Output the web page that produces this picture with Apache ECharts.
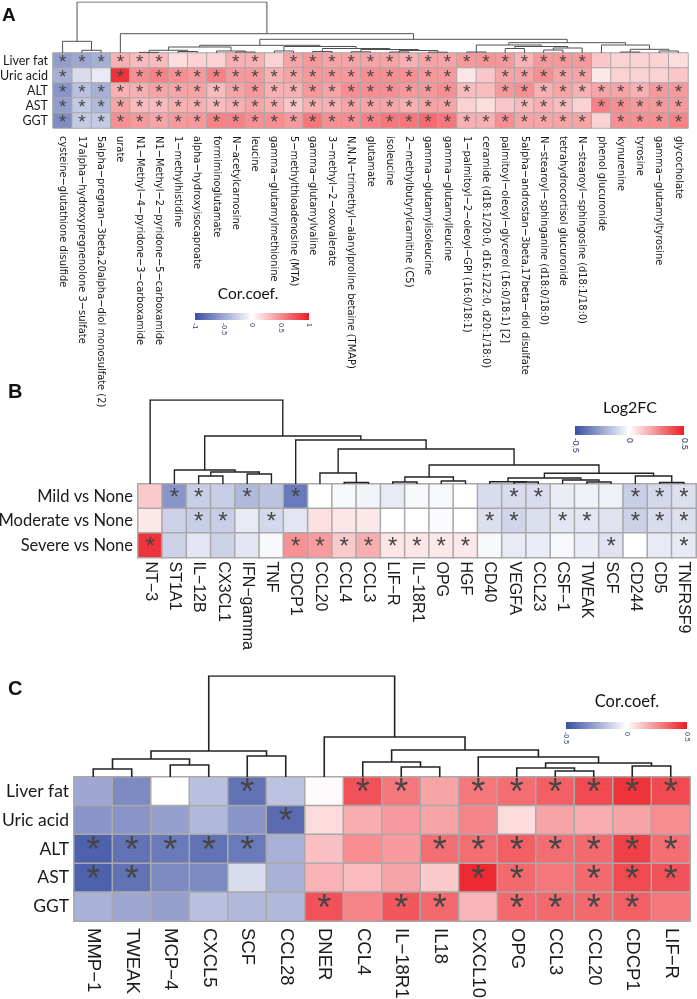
<!DOCTYPE html>
<html><head><meta charset="utf-8">
<script src="https://cdn.jsdelivr.net/npm/echarts@6/dist/echarts.min.js"></script>
<style>html,body{margin:0;padding:0;background:#fff}#c{width:697px;height:999px}</style>
</head><body><div id="c"></div>
<script>
// ---------- Panel A data ----------
const aRows = ['Liver fat','Uric acid','ALT','AST','GGT'];
const aCols = [
 'cysteine−glutathione disulfide','17alpha−hydroxypregnenolone 3−sulfate','5alpha−pregnan−3beta,20alpha−diol monosulfate (2)',
 'urate','N1−Methyl−4−pyridone−3−carboxamide','N1−Methyl−2−pyridone−5−carboxamide','1−methylhistidine',
 'alpha−hydroxyisocaproate','formiminoglutamate','N−acetylcarnosine','leucine','gamma−glutamylmethionine',
 '5−methylthioadenosine (MTA)','gamma−glutamylvaline','3−methyl−2−oxovalerate',
 'N,N,N−trimethyl−alanylproline betaine (TMAP)','glutamate','isoleucine','2−methylbutyrylcarnitine (C5)',
 'gamma−glutamylisoleucine','gamma−glutamylleucine','1−palmitoyl−2−oleoyl−GPI (16:0/18:1)',
 'ceramide (d18:1/20:0, d16:1/22:0, d20:1/18:0)','palmitoyl−oleoyl−glycerol (16:0/18:1) [2]',
 '5alpha−androstan−3beta,17beta−diol disulfate','N−stearoyl−sphinganine (d18:0/18:0)',
 'tetrahydrocortisol glucuronide','N−stearoyl−sphingosine (d18:1/18:0)','phenol glucuronide','kynurenine',
 'tyrosine','gamma−glutamyltyrosine','glycocholate'];
const aLiverFat = [-0.55,-0.5,-0.45,0.35,0.3,0.3,0.15,0.2,0.2,0.35,0.35,0.2,0.4,0.45,0.4,0.4,0.4,0.4,0.35,0.4,0.4,0.45,0.47,0.45,0.33,0.45,0.45,0.45,0.25,0.2,0.2,0.2,0.15];
const aUric     = [-0.45,-0.2,-0.12,0.9,0.5,0.55,0.5,0.45,0.55,0.45,0.45,0.35,0.4,0.45,0.45,0.45,0.5,0.5,0.5,0.45,0.45,0.12,0.25,0.4,0.4,0.5,0.4,0.4,0.1,0.2,0.2,0.2,0.25];
const aALT      = [-0.6,-0.35,-0.45,0.35,0.35,0.4,0.4,0.4,0.3,0.4,0.45,0.35,0.35,0.45,0.4,0.5,0.5,0.5,0.45,0.45,0.5,0.3,0.3,0.45,0.5,0.35,0.4,0.35,0.4,0.4,0.35,0.45,0.45];
const aAST      = [-0.55,-0.3,-0.4,0.4,0.3,0.3,0.35,0.35,0.3,0.35,0.4,0.35,0.25,0.35,0.35,0.4,0.4,0.4,0.35,0.4,0.4,0.2,0.15,0.25,0.3,0.35,0.3,0.2,0.55,0.5,0.45,0.45,0.45];
const aGGT      = [-0.65,-0.3,-0.3,0.5,0.45,0.4,0.45,0.45,0.55,0.55,0.5,0.5,0.45,0.6,0.5,0.5,0.55,0.6,0.6,0.65,0.6,0.35,0.35,0.5,0.4,0.4,0.4,0.4,0.2,0.5,0.5,0.5,0.55];
const aSigLiverFat = [1,1,1,1,1,1,0,0,0,1,1,0,1,1,1,1,1,1,1,1,1,1,1,1,1,1,1,1,0,0,0,0,0];
const aSigUric     = [1,0,0,1,1,1,1,1,1,1,1,1,1,1,1,1,1,1,1,1,1,0,0,1,1,1,1,1,0,0,0,0,0];
const aSigALT      = [1,1,1,1,1,1,1,1,1,1,1,1,1,1,1,1,1,1,1,1,1,1,0,1,1,1,1,1,1,1,1,1,1];
const aSigAST      = [1,1,1,1,1,1,1,1,1,1,1,1,1,1,1,1,1,1,1,1,1,0,0,0,1,1,1,0,1,1,1,1,1];
const aSigGGT      = [1,1,1,1,1,1,1,1,1,1,1,1,1,1,1,1,1,1,1,1,1,1,1,1,1,1,1,1,0,1,1,1,1];
// dendrogram: [left, right, height]; leaves are column indices
const aTreeLeft  = [[[[4,5,0.6],[6,7,1.5],2.7],[8,[9,10,1.0],2.0],6],
                    [[11,12,2],[[13,14,1.5],[[15,16,1.2],[[17,18,1.0],[19,20,0.8],2.5],3.5],4.5],6.5],7.7];
const aTreeRight = [[[21,22,1],[[23,24,4.5],[[25,26,3],27,5],6.5],8],
                    [28,[[29,30,1],[31,32,2],3.7],8],10.3];
const aTree = [[0,[1,2,2.7],11.7],[3,[aTreeLeft,aTreeRight,13.7],19.3],51];
const aScale = [-1, 1];

// ---------- Panel B data ----------
const bRows = ['Mild vs None','Moderate vs None','Severe vs None'];
const bCols = ['NT−3','ST1A1','IL−12B','CX3CL1','IFN−gamma','TNF','CDCP1','CCL20','CCL4','CCL3','LIF−R','IL−18R1','OPG','HGF','CD40','VEGFA','CCL23','CSF−1','TWEAK','SCF','CD244','CD5','TNFRSF9'];
const bMild     = [0.12,-0.3,-0.14,-0.14,-0.2,-0.17,-0.38,0.0,-0.02,-0.03,-0.06,-0.02,-0.02,0.0,-0.1,-0.1,-0.1,-0.05,-0.04,-0.04,-0.14,-0.11,-0.09];
const bModerate = [0.05,-0.13,-0.14,-0.14,-0.06,-0.11,-0.07,0.07,0.06,0.05,0.0,0.0,-0.01,0.0,-0.09,-0.12,-0.09,-0.07,-0.07,-0.08,-0.13,-0.1,-0.09];
const bSevere   = [0.45,-0.13,-0.07,-0.13,-0.07,-0.02,0.24,0.22,0.12,0.18,0.06,0.06,0.05,0.05,-0.02,-0.06,-0.05,-0.02,-0.05,-0.08,0.0,-0.06,-0.06];
const bSigMild     = [0,1,1,0,1,0,1,0,0,0,0,0,0,0,0,1,1,0,0,0,1,1,1];
const bSigModerate = [0,0,1,1,0,1,0,0,0,0,0,0,0,0,1,1,0,1,1,0,1,1,1];
const bSigSevere   = [1,0,0,0,0,0,1,1,1,1,1,1,1,1,0,0,0,0,0,1,0,0,1];
const bTreeG1 = [1,[[2,3,8],[4,5,10],12],14];
const bTreeN5 = [[[10,11,2],[12,13,3],7],[[[14,[15,16,2],2.3],[17,[18,19,2],4],6],[20,[21,22,1.5],8],10.7],19];
const bTree = [0,[bTreeG1,[6,[[7,[8,9,1.5],11],bTreeN5,35],44],48],84];
const bScale = [-0.5, 0.5];

// ---------- Panel C data ----------
const cRows = ['Liver fat','Uric acid','ALT','AST','GGT'];
const cCols = ['MMP−1','TWEAK','MCP−4','CXCL5','SCF','CCL28','DNER','CCL4','IL−18R1','IL18','CXCL10','OPG','CCL3','CCL20','CDCP1','LIF−R'];
const cLiverFat = [-0.25,-0.33,0.0,-0.18,-0.4,-0.17,0.01,0.38,0.3,0.2,0.3,0.32,0.35,0.4,0.45,0.4];
const cUric     = [-0.3,-0.3,-0.27,-0.2,-0.3,-0.42,0.08,0.18,0.22,0.2,0.27,0.08,0.2,0.18,0.2,0.25];
const cALT      = [-0.45,-0.4,-0.38,-0.4,-0.38,-0.22,0.14,0.25,0.22,0.32,0.32,0.35,0.32,0.33,0.42,0.32];
const cAST      = [-0.45,-0.4,-0.33,-0.33,-0.1,-0.22,0.17,0.15,0.2,0.12,0.47,0.33,0.3,0.33,0.4,0.38];
const cGGT      = [-0.22,-0.25,-0.27,-0.18,-0.2,-0.2,0.38,0.27,0.37,0.33,0.16,0.33,0.33,0.33,0.35,0.3];
const cSigLiverFat = [0,0,0,0,1,0,0,1,1,0,1,1,1,1,1,1];
const cSigUric     = [0,0,0,0,0,1,0,0,0,0,0,0,0,0,0,0];
const cSigALT      = [1,1,1,1,1,0,0,0,0,1,1,1,1,1,1,1];
const cSigAST      = [1,1,0,0,0,0,0,0,0,0,1,1,0,1,1,1];
const cSigGGT      = [0,0,0,0,0,0,1,0,1,1,0,1,1,1,1,0];
const cTreeL = [[[0,1,8],[2,3,12],18],[4,5,21],26];
const cTreeR = [6,[[7,[8,9,10],15],[10,[[11,[12,13,6],9],[14,15,11],14],20],27],40];
const cTree = [cTreeL,cTreeR,101];
const cScale = [-0.5, 0.5];

// ---------- helpers ----------
const BLUE = '#3A4FA3', RED = '#EC1C24';
const ROWFONT = 'Lato, "Noto Sans", sans-serif';
const ARIAL = '"Liberation Sans", Arial, sans-serif';
const NARROW = '"Liberation Sans Narrow", "DejaVu Sans Condensed", "Liberation Sans", sans-serif';

function heatData(rows, sigs) {
  const d = [];
  rows.forEach((r, j) => r.forEach((v, i) => d.push([i, j, v, sigs[j][i]])));
  return d;
}
function dendroSegs(tree) {
  const segs = [];
  function walk(n) {
    if (typeof n === 'number') return {x: n, h: 0};
    const a = walk(n[0]), b = walk(n[1]), h = n[2];
    segs.push({coords: [[a.x, a.h], [a.x, h], [b.x, h], [b.x, b.h]]});
    return {x: (a.x + b.x) / 2, h: h};
  }
  walk(tree);
  return segs;
}
function maxH(t) { return t[2]; }

const grids = [
  {left:53, top:53, width:635, height:75},     // 0 A heat
  {left:53, top:2, width:635, height:51},      // 1 A dendro
  {left:195, top:313, width:114, height:7},    // 2 A cbar
  {left:138, top:484, width:558, height:73.5}, // 3 B heat
  {left:138, top:400, width:558, height:84},   // 4 B dendro
  {left:575, top:426, width:109, height:9},    // 5 B cbar
  {left:74, top:777, width:616, height:144},   // 6 C heat
  {left:74, top:676, width:616, height:101},   // 7 C dendro
  {left:566, top:722, width:121, height:7}     // 8 C cbar
].map(g => Object.assign({outerBoundsMode:'none', containLabel:false}, g));

const xAxes = [], yAxes = [], series = [], visualMaps = [];

function addPanel(gi, cols, rows, data, tree, scale, st) {
  // heatmap
  xAxes.push({gridIndex: gi, type:'category', data: cols, axisLine:{show:false}, axisTick:{show:false}, splitLine:{show:false},
    axisLabel:{rotate:-90, interval:0, fontSize: st.colFont, fontFamily: st.colFamily, color:'#1a1a1a', margin: st.colMargin, hideOverlap:false}});
  yAxes.push({gridIndex: gi, type:'category', data: rows, inverse:true, axisLine:{show:false}, axisTick:{show:false}, splitLine:{show:false},
    axisLabel:{interval:0, hideOverlap:false, fontSize: st.rowFont, fontFamily: ROWFONT, color:'#1a1a1a', margin: 5}});
  const hi = series.length;
  series.push({type:'heatmap', xAxisIndex: xAxes.length-1, yAxisIndex: yAxes.length-1, data: data,
    itemStyle:{borderColor:'#a9a9a9', borderWidth: st.border},
    label:{show:true, formatter: p => p.value[3] ? '*' : '', fontSize: st.star, fontFamily: ARIAL, color:'#454545', offset:[0, st.starOff]},
    emphasis:{disabled:true}, silent:true, animation:false});
  visualMaps.push({type:'continuous', show:false, seriesIndex: hi, dimension: 2, min: scale[0], max: scale[1],
    inRange:{color:[BLUE, '#ffffff', RED]}});
  // dendrogram
  xAxes.push({gridIndex: gi+1, type:'value', min:-0.5, max: cols.length-0.5, show:false});
  yAxes.push({gridIndex: gi+1, type:'value', min:0, max: maxH(tree), show:false});
  series.push({type:'lines', coordinateSystem:'cartesian2d', xAxisIndex: xAxes.length-1, yAxisIndex: yAxes.length-1,
    polyline:true, data: dendroSegs(tree), lineStyle:{color: st.lineColor, width: st.lineW, opacity:1}, silent:true, animation:false});
  // colour bar
  xAxes.push({gridIndex: gi+2, type:'value', min: scale[0], max: scale[1], interval: 0.5,
    axisLine:{show:false}, axisTick:{show:false}, splitLine:{show:false},
    axisLabel:{rotate:-90, fontSize: st.cbFont, fontFamily: ARIAL, color:'#2d3a6e', margin: 3, showMinLabel:true, showMaxLabel:true}});
  yAxes.push({gridIndex: gi+2, type:'value', min:0, max:1, show:false});
  series.push({type:'custom', xAxisIndex: xAxes.length-1, yAxisIndex: yAxes.length-1, data:[[scale[0], scale[1]]],
    silent:true, animation:false,
    renderItem: (params, api) => {
      const p0 = api.coord([api.value(0), 0]);
      const p1 = api.coord([api.value(1), 1]);
      return {type:'rect', shape:{x:p0[0], y:p1[1], width:p1[0]-p0[0], height:p0[1]-p1[1]},
        style:{fill: new echarts.graphic.LinearGradient(0,0,1,0,[{offset:0,color:BLUE},{offset:0.5,color:'#ffffff'},{offset:1,color:RED}])}};
    }});
}

addPanel(0, aCols, aRows, heatData([aLiverFat,aUric,aALT,aAST,aGGT],[aSigLiverFat,aSigUric,aSigALT,aSigAST,aSigGGT]), aTree, aScale,
  {colFont:11, colFamily:NARROW, colMargin:8, rowFont:12.5, border:1, star:19, starOff:2, lineColor:'#505050', lineW:1, cbFont:7});
addPanel(3, bCols, bRows, heatData([bMild,bModerate,bSevere],[bSigMild,bSigModerate,bSigSevere]), bTree, bScale,
  {colFont:16, colFamily:ARIAL, colMargin:4, rowFont:16.5, border:1.5, star:24, starOff:2, lineColor:'#222', lineW:1.4, cbFont:8.5});
addPanel(6, cCols, cRows, heatData([cLiverFat,cUric,cALT,cAST,cGGT],[cSigLiverFat,cSigUric,cSigALT,cSigAST,cSigGGT]), cTree, cScale,
  {colFont:18.5, colFamily:ARIAL, colMargin:7, rowFont:17.5, border:1.5, star:36, starOff:3, lineColor:'#222', lineW:1.6, cbFont:7});

const txt = (x, y, t, size, weight, family, align) => ({type:'text', x, y, silent:true,
  style:{text:t, fontSize:size, fontWeight:weight||'normal', fontFamily:family, fill:'#111', align:align||'left', verticalAlign:'middle'}});

const option = {
  animation:false,
  backgroundColor:'#ffffff',
  grid: grids, xAxis: xAxes, yAxis: yAxes, series: series, visualMap: visualMaps,
  graphic: [
    txt(2, 16, 'A', 19, 'bold', ARIAL),
    txt(8, 392, 'B', 20, 'bold', ARIAL),
    txt(8, 689, 'C', 20, 'bold', ARIAL),
    txt(248, 294, 'Cor.coef.', 15.5, 'normal', ROWFONT, 'center'),
    txt(630, 408, 'Log2FC', 16, 'normal', ROWFONT, 'center'),
    txt(627, 702, 'Cor.coef.', 16.5, 'normal', ROWFONT, 'center')
  ]
};
const chart = echarts.init(document.getElementById('c'));
chart.setOption(option);
</script>
</body></html>
